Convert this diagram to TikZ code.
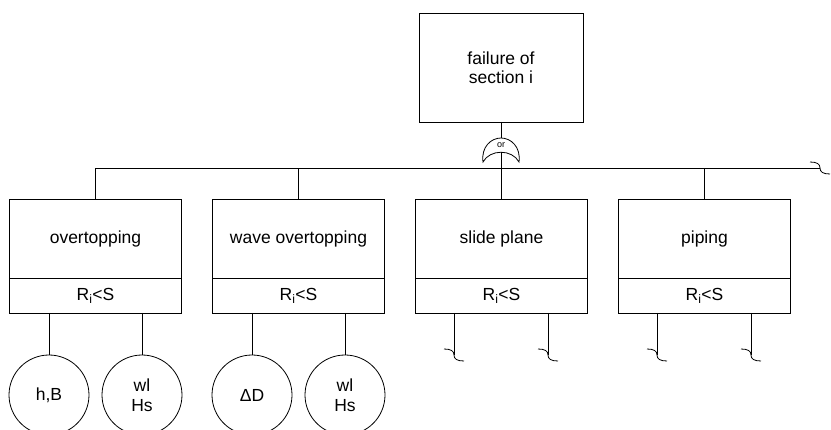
\documentclass[tikz,border=0pt]{standalone}
\usepackage{fontspec}
\setmainfont{Liberation Sans}
\usetikzlibrary{positioning}

\tikzset{
  every node/.style={font=\fontsize{17.5}{19.5}\selectfont, inner sep=0pt, outer sep=0pt},
  evbox/.style={draw, minimum width=172pt, minimum height=79pt},
  condbox/.style={draw, minimum width=172pt, minimum height=35pt},
  basic/.style={draw, circle, minimum size=80pt, align=center},
  brk/.pic={\draw (-10,-6) .. controls (-3,-6) and (0,-4) .. (0,0) .. controls (0,4) and (3,6) .. (10,6);}
}

\begin{document}
\begin{tikzpicture}[x=1pt, y=-1pt, line width=0.8pt]
        \useasboundingbox (0,0) rectangle (831,430);

        % top event and or gate
        \node[draw, minimum width=164pt, minimum height=109pt, align=center] (top) at (501,67.5) {failure of\\section i};
        \coordinate (gtop) at (501,138);
        \coordinate (gbot) at (501,152);
        \draw (483,162) .. controls (481,147) and (491,138) .. (gtop)
              .. controls (511,138) and (521,147) .. (519,162)
              .. controls (512,149) and (490,149) .. cycle;
        \node[font=\fontsize{9}{9}\selectfont] (orlbl) at (501,145) {or};
        \draw (top.south) -- (gtop);

        % failure modes
        \node[evbox] (ov) at (95.5,238.5) {overtopping};
        \node[condbox, below=0pt of ov] (ovc) {R\textsubscript{i}<S};
        \node[evbox, right=31pt of ov] (wo) {wave overtopping};
        \node[condbox, below=0pt of wo] (woc) {R\textsubscript{i}<S};
        \node[evbox, right=31pt of wo] (sp) {slide plane};
        \node[condbox, below=0pt of sp] (spc) {R\textsubscript{i}<S};
        \node[evbox, right=31pt of sp] (pi) {piping};
        \node[condbox, below=0pt of pi] (pic) {R\textsubscript{i}<S};

        % bus
        \coordinate (bus) at (820,168);
        \draw (gbot) -- (gbot |- bus);
        \draw (ov.north) |- (bus);
        \foreach \n in {wo, sp, pi} {
          \draw (\n.north) -- (\n.north |- bus);
        }
        \pic at (bus) {brk};

        % basic events
        \node[basic] (hb) at (49,395) {h,B};
        \node[basic] (wla) at (142,395) {wl\\Hs};
        \node[basic] (dd) at (252,395) {ΔD};
        \node[basic] (wlb) at (345,395) {wl\\Hs};
        \draw (ovc.south -| hb) -- (hb);
        \draw (ovc.south -| wla) -- (wla);
        \draw (woc.south -| dd) -- (dd);
        \draw (woc.south -| wlb) -- (wlb);

        % undeveloped legs
        \foreach \x in {454, 548, 657, 751} {
          \coordinate (leg) at (\x,355);
          \draw (spc.south -| leg) -- (leg);
          \pic at (leg) {brk};
        }
      \end{tikzpicture}
\end{document}
